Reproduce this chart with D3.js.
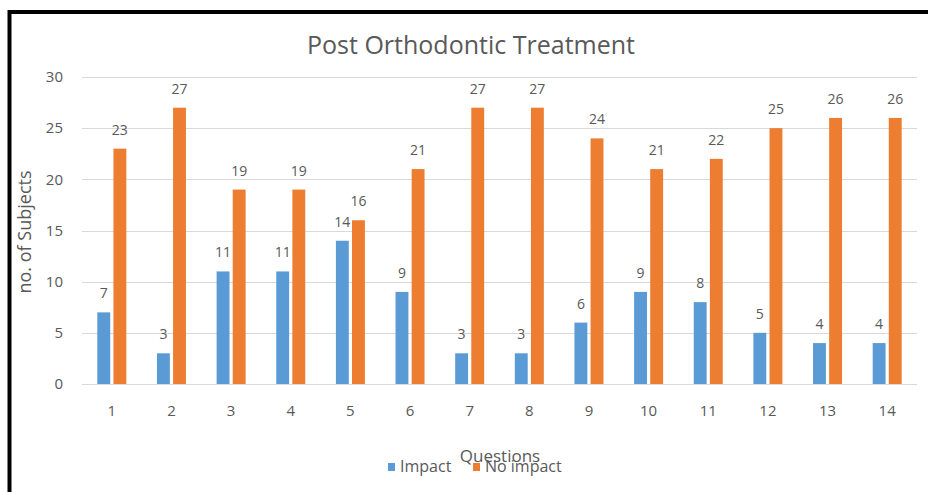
<!DOCTYPE html>
<html lang="en">
<head>
    <meta charset="UTF-8">
    <title>Post Orthodontic Treatment</title>
    <script src="https://d3js.org/d3.v7.min.js"></script>
    <style>
        body { margin: 0; background: #fff; }
        text { font-family: "Open Sans", sans-serif; fill: #595959; }
    </style>
</head>
<body>
    <div id="chart"></div>
    <script>
        var questions = ["1", "2", "3", "4", "5", "6", "7", "8", "9", "10", "11", "12", "13", "14"];
        var impact = [7, 3, 11, 11, 14, 9, 3, 3, 6, 9, 8, 5, 4, 4];
        var noImpact = [23, 27, 19, 19, 16, 21, 27, 27, 24, 21, 22, 25, 26, 26];
        var yTicks = [0, 5, 10, 15, 20, 25, 30];
        var keys = ["Impact", "No impact"];

        var data = questions.map(function (q, i) {
            return { q: q, values: [{ key: "Impact", value: impact[i] }, { key: "No impact", value: noImpact[i] }] };
        });

        var W = 928, H = 492;
        var plotLeft = 82, plotRight = 917, plotTop = 77, plotBottom = 384;

        var svg = d3.select("#chart").append("svg")
            .attr("width", W)
            .attr("height", H);

        // outer frame (cut off at right / bottom like the screenshot)
        svg.append("rect")
            .attr("x", 9.5).attr("y", 12)
            .attr("width", 1000).attr("height", 1000)
            .attr("fill", "none")
            .attr("stroke", "#000")
            .attr("stroke-width", 4);

        var x0 = d3.scaleBand()
            .domain(questions)
            .range([plotLeft, plotRight]);

        var x1 = d3.scaleBand()
            .domain(keys)
            .range([-14.5, 14.5])
            .paddingInner(0.2);

        var y = d3.scaleLinear()
            .domain([0, 30])
            .range([plotBottom, plotTop]);

        var z = d3.scaleOrdinal()
            .domain(keys)
            .range(["#5b9bd5", "#ed7d31"]);

        // gridlines
        svg.append("g")
            .selectAll("line")
            .data(yTicks)
            .enter().append("line")
            .attr("x1", plotLeft)
            .attr("x2", plotRight)
            .attr("y1", function (d) { return Math.round(y(d)) + 0.5; })
            .attr("y2", function (d) { return Math.round(y(d)) + 0.5; })
            .attr("stroke", "#d9d9d9")
            .attr("stroke-width", 1);

        // y tick labels
        var yAxis = svg.append("g")
            .attr("transform", "translate(" + plotLeft + ",0)")
            .call(d3.axisLeft(y).tickValues(yTicks).tickSize(0).tickPadding(19));
        yAxis.select(".domain").remove();
        yAxis.selectAll("text").attr("font-size", 15).attr("fill", "#595959")
            .style("font-family", "'Open Sans', sans-serif");

        // x tick labels
        var xAxis = svg.append("g")
            .attr("transform", "translate(0," + plotBottom + ")")
            .call(d3.axisBottom(x0).tickSize(0).tickPadding(21));
        xAxis.select(".domain").remove();
        xAxis.selectAll("text").attr("font-size", 15).attr("fill", "#595959")
            .style("font-family", "'Open Sans', sans-serif");

        // bars
        var groups = svg.append("g")
            .selectAll("g")
            .data(data)
            .enter().append("g")
            .attr("transform", function (d) { return "translate(" + (x0(d.q) + x0.bandwidth() / 2) + ",0)"; });

        groups.selectAll("rect")
            .data(function (d) { return d.values; })
            .enter().append("rect")
            .attr("x", function (d) { return x1(d.key); })
            .attr("y", function (d) { return y(d.value); })
            .attr("width", x1.bandwidth())
            .attr("height", function (d) { return y(0) - y(d.value); })
            .attr("fill", function (d) { return z(d.key); });

        groups.selectAll(".lbl")
            .data(function (d) { return d.values; })
            .enter().append("text")
            .attr("class", "lbl")
            .attr("x", function (d) { return x1(d.key) + x1.bandwidth() / 2; })
            .attr("y", function (d) { return y(d.value) - 14; })
            .attr("text-anchor", "middle")
            .attr("font-size", 14)
            .attr("fill", "#404040")
            .text(function (d) { return d.value; });

        // title
        svg.append("text")
            .attr("x", 471)
            .attr("y", 54)
            .attr("text-anchor", "middle")
            .attr("font-size", 25)
            .text("Post Orthodontic Treatment");

        // y axis title
        svg.append("text")
            .attr("transform", "translate(31,232) rotate(-90)")
            .attr("text-anchor", "middle")
            .attr("font-size", 18)
            .text("no. of Subjects");

        // x axis title
        svg.append("text")
            .attr("x", 500)
            .attr("y", 462)
            .attr("text-anchor", "middle")
            .attr("font-size", 17)
            .text("Questions");

        // legend
        var legendX = [388, 473];
        var legend = svg.append("g")
            .selectAll("g")
            .data(keys)
            .enter().append("g")
            .attr("transform", function (d, i) { return "translate(" + legendX[i] + ",463)"; });

        legend.append("rect")
            .attr("width", 7)
            .attr("height", 8)
            .attr("fill", z);

        legend.append("text")
            .attr("x", 12)
            .attr("y", 9)
            .attr("font-size", 16)
            .text(function (d) { return d; });
    </script>
</body>
</html>
